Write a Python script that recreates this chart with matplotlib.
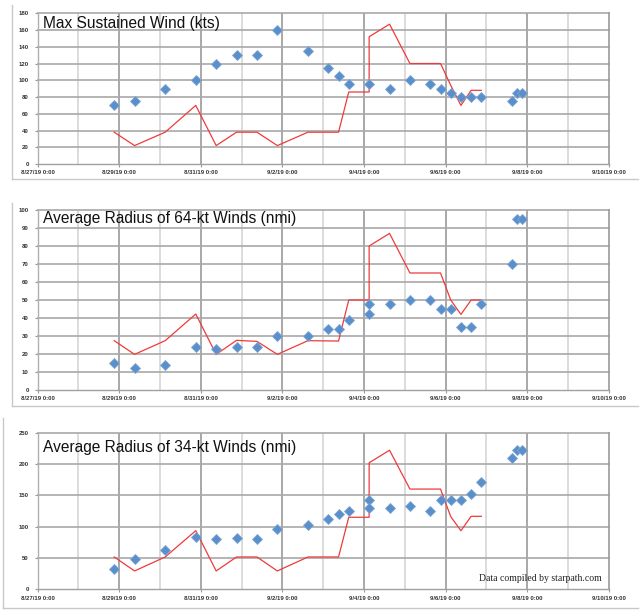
import matplotlib
matplotlib.use("Agg")
import matplotlib.pyplot as plt
from matplotlib.lines import Line2D
import pandas as pd

# ---------------- data ----------------
start = pd.Timestamp("2019-08-27 00:00")

obs_times = ["2019-08-28 21:00", "2019-08-29 09:00", "2019-08-30 03:00", "2019-08-30 21:00",
             "2019-08-31 09:00", "2019-08-31 21:00", "2019-09-01 09:00", "2019-09-01 21:00",
             "2019-09-02 15:00", "2019-09-03 03:00", "2019-09-03 09:00", "2019-09-03 15:00",
             "2019-09-04 03:00", "2019-09-04 15:00", "2019-09-05 03:00", "2019-09-05 15:00",
             "2019-09-05 21:00", "2019-09-06 03:00", "2019-09-06 09:00", "2019-09-06 15:00",
             "2019-09-06 21:00", "2019-09-07 15:00", "2019-09-07 18:00", "2019-09-07 21:00"]
wind_kts = [70, 75, 90, 100, 120, 130, 130, 160, 135, 115, 105, 95, 95, 90, 100, 95,
            90, 85, 80, 80, 80, 75, 85, 85]

r64_times = ["2019-08-28 21:00", "2019-08-29 09:00", "2019-08-30 03:00", "2019-08-30 21:00",
             "2019-08-31 09:00", "2019-08-31 21:00", "2019-09-01 09:00", "2019-09-01 21:00",
             "2019-09-02 15:00", "2019-09-03 03:00", "2019-09-03 09:00", "2019-09-03 15:00",
             "2019-09-04 03:00", "2019-09-04 03:00", "2019-09-04 15:00", "2019-09-05 03:00",
             "2019-09-05 15:00", "2019-09-05 21:00", "2019-09-06 03:00", "2019-09-06 09:00",
             "2019-09-06 15:00", "2019-09-06 21:00", "2019-09-07 15:00", "2019-09-07 18:00",
             "2019-09-07 21:00"]
r64_nmi = [15, 12, 14, 24, 23, 24, 24, 30, 30, 34, 34, 39, 48, 42, 48, 50,
           50, 45, 45, 35, 35, 48, 70, 95, 95]

r34_times = r64_times
r34_nmi = [32, 49, 62, 84, 80, 82, 80, 97, 102, 113, 120, 125, 143, 130, 130, 133,
           125, 143, 143, 143, 152, 172, 210, 222, 222]

ref_times = ["2019-08-28 21:00", "2019-08-29 09:00", "2019-08-30 03:00", "2019-08-30 21:00",
             "2019-08-31 09:00", "2019-08-31 21:00", "2019-09-01 09:00", "2019-09-01 21:00",
             "2019-09-02 15:00", "2019-09-03 09:00", "2019-09-03 15:00", "2019-09-04 03:00",
             "2019-09-04 03:00", "2019-09-04 15:00", "2019-09-05 03:00", "2019-09-05 21:00",
             "2019-09-06 03:00", "2019-09-06 09:00", "2019-09-06 15:00", "2019-09-06 21:00"]
ref_wind = [38, 22, 38, 70, 22, 38, 38, 22, 38, 38, 86, 86, 152, 167, 120, 120, 94, 70, 88, 88]
ref_r64 = [27.4, 19.8, 27.4, 42.2, 19.8, 27.6, 27, 19.8, 27.4, 27.2, 50, 50, 80, 87, 65, 65,
           50, 42, 50, 50]
ref_r34 = [51.6, 29.3, 51.6, 93.6, 29.3, 51.6, 51.6, 29.3, 51.6, 51.6, 115, 115, 202, 222,
           160, 160, 116, 93.6, 116.5, 116.5]

titles = ["Max Sustained Wind (kts)", "Average Radius of 64-kt Winds (nmi)",
          "Average Radius of 34-kt Winds (nmi)"]
xtick_labels = ["8/27/19 0:00", "8/29/19 0:00", "8/31/19 0:00", "9/2/19 0:00",
                "9/4/19 0:00", "9/6/19 0:00", "9/8/19 0:00", "9/10/19 0:00"]
credit = "Data compiled by starpath.com"


def days(ts):
    return [(pd.Timestamp(t) - start) / pd.Timedelta(days=1) for t in ts]


# ---------------- figure ----------------
W, H = 640, 610
fig = plt.figure(figsize=(W / 100, H / 100), dpi=100)
plt.rcParams['font.family'] = ['Liberation Sans', 'DejaVu Sans']


def px_axes(left, right, top, bottom):
    return fig.add_axes([left / W, 1 - bottom / H, (right - left) / W, (bottom - top) / H])


panels = [
    dict(box=(37.7, 608.8, 13.3, 164.0), ymax=180, ystep=20, t=obs_times, y=wind_kts,
         ry=ref_wind, frame=(12, 5, 179), title_base=28.3),
    dict(box=(37.7, 608.8, 210.0, 390.0), ymax=100, ystep=10, t=r64_times, y=r64_nmi,
         ry=ref_r64, frame=(12, 203, 406), title_base=223.3),
    dict(box=(37.7, 608.8, 432.7, 589.3), ymax=250, ystep=50, t=r34_times, y=r34_nmi,
         ry=ref_r34, frame=(3, 418, 608), title_base=451.7),
]

major_grid = "#9a9a9a"
minor_grid = "#d6d6d6"
hgrid = "#a8a8a8"

for i, p in enumerate(panels):
    ax = px_axes(*p["box"])
    ax.set_xlim(0, 14)
    ax.set_ylim(0, p["ymax"])
    ax.set_facecolor("white")

    # gridlines
    for d in range(1, 14):
        ax.axvline(d, color=major_grid if d % 2 == 0 else minor_grid, lw=1.2, zorder=0)
    for v in range(p["ystep"], p["ymax"] + 1, p["ystep"]):
        ax.axhline(v, color=hgrid, lw=1.2, zorder=0, clip_on=False)

    for s in ["top", "right"]:
        ax.spines[s].set_visible(False)
    ax.spines["left"].set_color("#b0b0b0")
    ax.spines["bottom"].set_color("#a0a0a0")
    ax.spines["left"].set_linewidth(1.0)
    ax.spines["bottom"].set_linewidth(1.0)
    ax.axvline(14, color=major_grid, lw=1.2, zorder=0, clip_on=False)

    ax.set_xticks(range(0, 15, 2))
    ax.set_xticklabels(xtick_labels)
    ax.set_yticks(range(0, p["ymax"] + 1, p["ystep"]))
    ax.tick_params(axis="both", length=2.5, width=0.8, color="#9a9a9a",
                   labelsize=4.3, labelcolor="#333333", pad=2)
    ax.tick_params(axis="y", pad=4)
    for lab in ax.get_xticklabels() + ax.get_yticklabels():
        lab.set_fontweight("bold")

    # red reference line
    ax.plot(days(ref_times), p["ry"], color="#f03a3a", lw=0.9, zorder=3)
    # observed points
    ax.plot(days(p["t"]), p["y"], linestyle="none", marker="D", markersize=5.2,
            markerfacecolor="#5b8fcb", markeredgecolor="#7aa6d6", markeredgewidth=0.6,
            zorder=4)

    # outer chart frame
    fx, ftop, fbot = p["frame"]
    fig.add_artist(Line2D([fx / W, fx / W], [1 - ftop / H, 1 - fbot / H],
                          color="#c8c8c8", lw=1.0))
    fig.add_artist(Line2D([fx / W, 638 / W], [1 - fbot / H, 1 - fbot / H],
                          color="#c8c8c8", lw=1.0))

    fig.text(43 / W, 1 - p["title_base"] / H, titles[i], fontsize=11.2,
             va="baseline", ha="left", color="#111111",
             family=["Liberation Sans", "DejaVu Sans"])

fig.text(479 / W, 1 - 580.7 / H, credit, fontsize=7, va="baseline", ha="left",
         family=["Liberation Serif", "DejaVu Serif"], color="#222222")

fig.savefig("out.png", dpi=100, facecolor="white")
